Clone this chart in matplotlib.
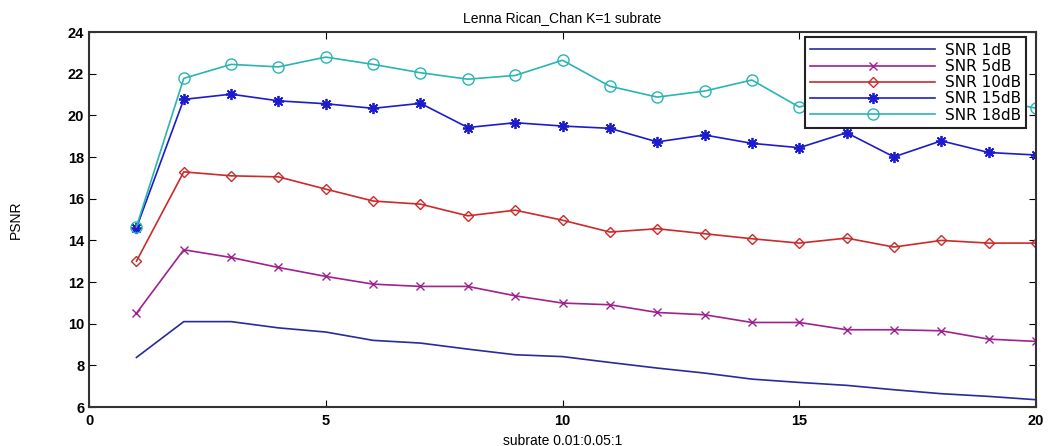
import numpy as np
import matplotlib
matplotlib.use('Agg')
import matplotlib.pyplot as plt

plt.rcParams['font.family'] = ['Liberation Sans', 'DejaVu Sans']

# subrate index 1..20
x = np.arange(1, 21)

snr1 = [8.38, 10.1, 10.1, 9.8, 9.6, 9.2, 9.07, 8.78, 8.51, 8.42, 8.14, 7.87, 7.63, 7.34, 7.18, 7.04, 6.83, 6.64, 6.51, 6.35]
snr5 = [10.5, 13.55, 13.18, 12.7, 12.27, 11.9, 11.79, 11.79, 11.34, 10.99, 10.91, 10.54, 10.43, 10.06, 10.06, 9.71, 9.71, 9.66, 9.26, 9.15]
snr10 = [13.0, 17.29, 17.1, 17.05, 16.46, 15.89, 15.74, 15.18, 15.45, 14.97, 14.4, 14.56, 14.32, 14.08, 13.87, 14.11, 13.68, 14.0, 13.87, 13.87]
snr15 = [14.6, 20.77, 21.02, 20.7, 20.56, 20.34, 20.58, 19.42, 19.65, 19.49, 19.38, 18.73, 19.06, 18.66, 18.45, 19.17, 18.01, 18.78, 18.22, 18.1]
snr18 = [14.65, 21.78, 22.45, 22.33, 22.8, 22.45, 22.05, 21.74, 21.92, 22.65, 21.4, 20.88, 21.17, 21.7, 20.4, 21.0, 20.6, 21.1, 20.8, 20.35]

labels = ['SNR 1dB', 'SNR 5dB', 'SNR 10dB', 'SNR 15dB', 'SNR 18dB']

fig = plt.figure(figsize=(10.48, 4.46), dpi=100)
ax = fig.add_axes([0.085, 0.0874, 0.9035, 0.8406])

ax.plot(x, snr1, color='#2a2a9c', lw=1.2, label=labels[0])
ax.plot(x, snr5, color='#a02090', lw=1.2, marker='x', ms=6, label=labels[1])
ax.plot(x, snr10, color='#cc2a2a', lw=1.2, marker='D', ms=5.5, mfc='none', label=labels[2])
ax.plot(x, snr15, color='#1c1ccc', lw=1.2, marker=(8, 2, 0), ms=8, mew=1.3, label=labels[3])
ax.plot(x, snr18, color='#2ab4b4', lw=1.2, marker='o', ms=8, mfc='none', label=labels[4])

ax.set_xlim(0, 20)
ax.set_ylim(6, 24)
ax.set_xticks([0, 5, 10, 15, 20])
ax.set_yticks(range(6, 25, 2))
ax.tick_params(direction='in', top=True, right=True, length=5, labelsize=10.5)
ax.tick_params(axis='x', pad=5)
for lab in ax.get_xticklabels() + ax.get_yticklabels():
    lab.set_fontweight('bold')
for s in ax.spines.values():
    s.set_linewidth(1.5)
    s.set_color('#333333')

ax.set_title('Lenna Rican_Chan K=1 subrate', fontsize=10, pad=7)
ax.set_xlabel('subrate 0.01:0.05:1', fontsize=10, labelpad=4)
ax.set_ylabel('PSNR', fontsize=10)
ax.yaxis.set_label_coords(-0.07, 0.5)

leg = ax.legend(loc='upper right', bbox_to_anchor=(0.9895, 0.986),
                prop={'family': 'DejaVu Sans', 'size': 11},
                fancybox=False, framealpha=1, edgecolor='#222222',
                handlelength=8.2, borderpad=0.35, labelspacing=0.08,
                handletextpad=0.6, borderaxespad=0.0)
leg.get_frame().set_linewidth(1.5)

fig.savefig('out.png', dpi=100)
